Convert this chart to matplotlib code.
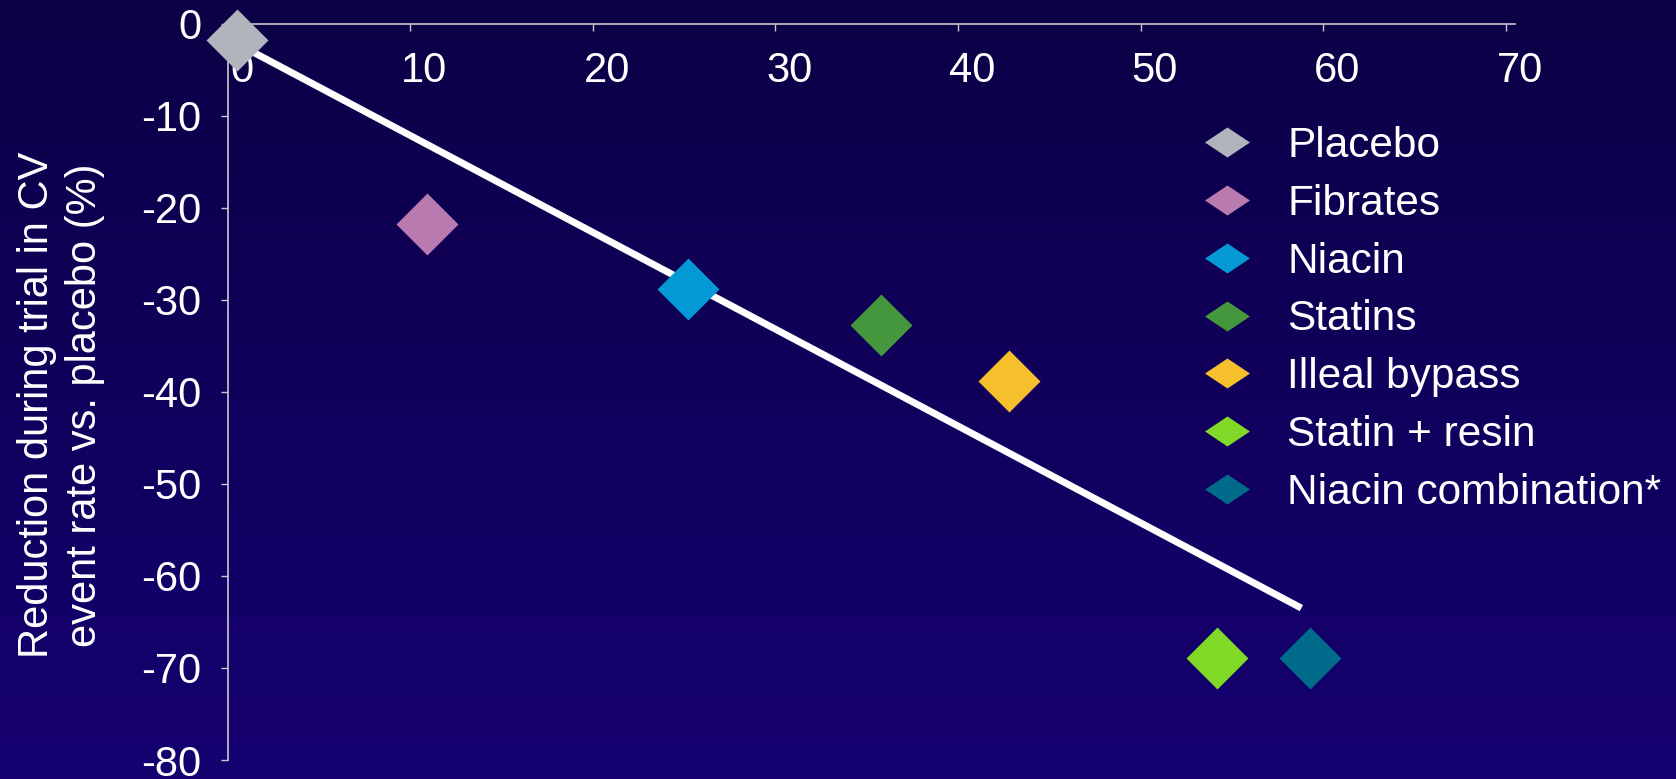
import numpy as np
import matplotlib
matplotlib.use("Agg")
from matplotlib import pyplot as plt
from matplotlib.colors import LinearSegmentedColormap
from matplotlib.lines import Line2D
from matplotlib.transforms import ScaledTranslation

plt.rcParams['font.family'] = ['Liberation Sans', 'DejaVu Sans']
plt.rcParams['axes.unicode_minus'] = False

# data
labels = ["Placebo", "Fibrates", "Niacin", "Statins", "Illeal bypass",
          "Statin + resin", "Niacin combination*"]
x_vals = [0.5, 10.9, 25.2, 35.8, 42.8, 54.2, 59.3]
y_vals = [-1.8, -21.8, -28.8, -32.8, -38.8, -68.9, -68.9]
colors = ["#b0b4bc", "#b87aaf", "#0399d4", "#45973d", "#f5c02b",
          "#80d926", "#006a8a"]

trend_x = [1.0, 58.8]
trend_y = [-2.7, -63.5]

x_ticks = [0, 10, 20, 30, 40, 50, 60, 70]
y_ticks = [0, -10, -20, -30, -40, -50, -60, -70, -80]

ylabel = "Reduction during trial in CV\nevent rate vs. placebo (%)"

diamond = [(0, 1), (1, 0), (0, -1), (-1, 0), (0, 1)]
flat_diamond = [(0, 0.667), (1, 0), (0, -0.667), (-1, 0), (0, 0.667)]

fig = plt.figure(figsize=(16.76, 7.79), dpi=100)

# background gradient
bg = fig.add_axes([0, 0, 1, 1], zorder=-10)
cmap = LinearSegmentedColormap.from_list("bg", ["#0c0046", "#160071"])
grad = np.linspace(0, 1, 256).reshape(-1, 1)
bg.imshow(grad, aspect='auto', cmap=cmap, extent=[0, 1, 0, 1])
bg.axis('off')

ax = fig.add_axes([227.7 / 1676, 1 - 760 / 779, (1515 - 227.7) / 1676, (760 - 23.5) / 779])
ax.set_facecolor('none')

ax.plot(trend_x, trend_y, color='white', lw=5, solid_capstyle='butt', zorder=2)
for xv, yv, c, lab in zip(x_vals, y_vals, colors, labels):
    ax.plot([xv], [yv], ls='none', marker=diamond, ms=44.6, color=c,
            mew=0, label=lab, zorder=3, clip_on=False)

ax.set_xlim(0, 70.5)
ax.set_ylim(-80, 0)
ax.set_xticks(x_ticks)
ax.set_yticks(y_ticks)
ax.set_xticklabels([str(v) for v in x_ticks])
ax.set_yticklabels([str(v) for v in y_ticks])

for s in ['right', 'bottom']:
    ax.spines[s].set_visible(False)
for s in ['left', 'top']:
    ax.spines[s].set_color('#c8c8d0')
    ax.spines[s].set_linewidth(1.2)

ax.tick_params(axis='x', top=True, bottom=False, labeltop=True, labelbottom=False,
               direction='in', length=5, width=1, color='#c8c8d0',
               labelcolor='white', labelsize=30, pad=-48.5)
ax.tick_params(axis='y', direction='out', length=5, width=1, color='#c8c8d0',
               labelcolor='white', labelsize=30, pad=14)

offset = ScaledTranslation(14 / 100, 0, fig.dpi_scale_trans)
for t in ax.get_xticklabels():
    t.set_transform(t.get_transform() + offset)

fig.text(61 / 1676, 1 - 405 / 779, ylabel, rotation=90, ha='center', va='center',
         color='white', fontsize=30, linespacing=1.24, multialignment='center')

handles = [Line2D([], [], ls='none', marker=flat_diamond, ms=32.4, color=c, mew=0)
           for c in colors]
leg = fig.legend(handles, labels, loc='upper left',
                 bbox_to_anchor=(1204 / 1676, 1 - 126 / 779),
                 frameon=False, fontsize=30.5, labelspacing=0.42,
                 handlelength=1.1, handletextpad=0.87,
                 borderpad=0, borderaxespad=0)
for t in leg.get_texts():
    t.set_color('white')

fig.savefig("out.png", dpi=100)
